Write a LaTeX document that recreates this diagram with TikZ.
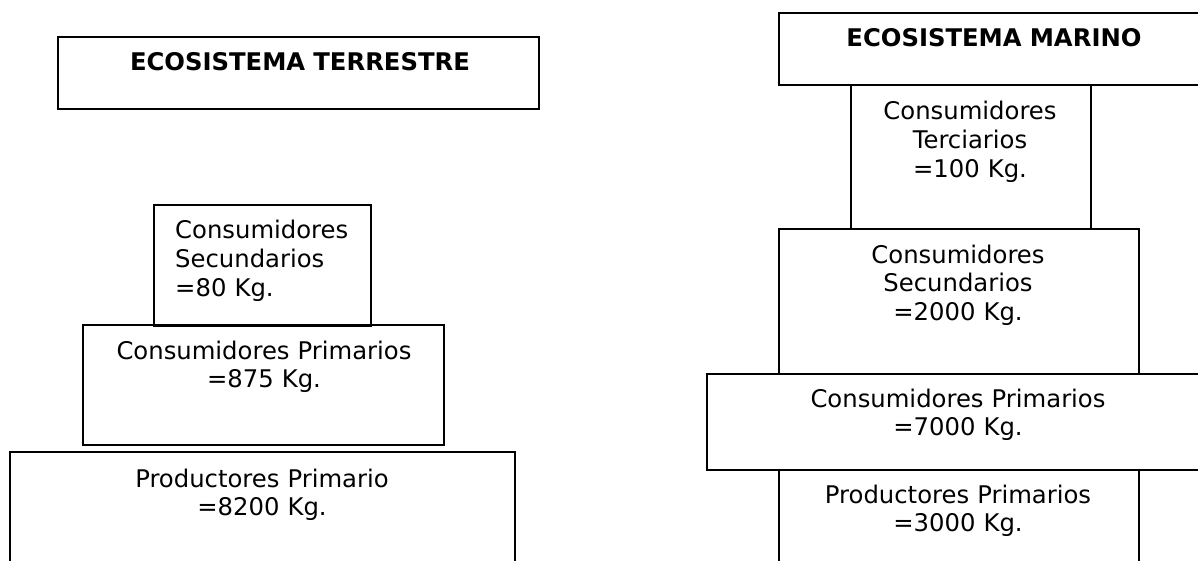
\documentclass[tikz,border=0pt]{standalone}
\usepackage{fontspec}
\setmainfont{DejaVu Sans}
\begin{document}
\begin{tikzpicture}[x=1pt,y=-1pt,
  box/.style={draw=black,line width=1.6pt,inner sep=0pt,anchor=north west,rectangle},
  lbl/.style={inner sep=0pt,anchor=base,align=center,font=\fontsize{24.3pt}{28.6pt}\selectfont},
  lbll/.style={inner sep=0pt,anchor=base west,align=left,font=\fontsize{24.3pt}{28.6pt}\selectfont},
  ttl/.style={inner sep=0pt,anchor=base,align=center,font=\fontsize{24.3pt}{28.6pt}\selectfont\bfseries}]
\clip (0,0) rectangle (1198,561);
\fill[white] (0,0) rectangle (1198,561);
% Terrestre
\node[box,minimum width=481pt,minimum height=72pt] (tT) at (57,36) {};
\node[box,minimum width=217pt,minimum height=121pt] (tS) at (153,204) {};
\node[box,minimum width=361pt,minimum height=120pt] (tP) at (82,324) {};
\node[box,minimum width=505pt,minimum height=130pt] (tR) at (9,451) {};
\node[ttl,text width=470pt] (tTl) at (300,71) {ECOSISTEMA TERRESTRE};
\node[lbll,text width=190pt] (tSl) at (175,239) {Consumidores\\Secundarios\\=80 Kg.};
\node[lbl,text width=350pt] (tPl) at (264,359) {Consumidores Primarios\\=875 Kg.};
\node[lbl,text width=490pt] (tRl) at (262,487) {Productores Primario\\=8200 Kg.};
% Marino
\node[box,minimum width=432pt,minimum height=72pt] (mT) at (778,12) {};
\node[box,minimum width=240pt,minimum height=144pt] (mC) at (850,84) {};
\node[box,minimum width=360pt,minimum height=145pt] (mS) at (778,228) {};
\node[box,minimum width=504pt,minimum height=96pt] (mP) at (706,373) {};
\node[box,minimum width=360pt,minimum height=130pt] (mR) at (778,469) {};
\node[ttl,text width=420pt] (mTl) at (994,47) {ECOSISTEMA MARINO};
\node[lbl,text width=230pt] (mCl) at (970,120) {Consumidores\\Terciarios\\=100 Kg.};
\node[lbl,text width=350pt] (mSl) at (958,263) {Consumidores\\Secundarios\\=2000 Kg.};
\node[lbl,text width=490pt] (mPl) at (958,407) {Consumidores Primarios\\=7000 Kg.};
\node[lbl,text width=350pt] (mRl) at (958,503) {Productores Primarios\\=3000 Kg.};
\end{tikzpicture}
\end{document}
